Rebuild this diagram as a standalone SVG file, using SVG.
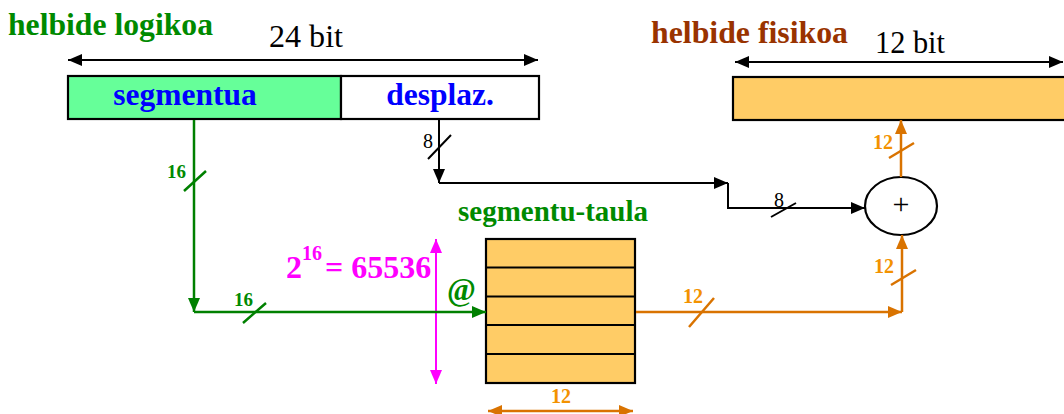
<svg xmlns="http://www.w3.org/2000/svg" width="1064" height="414" viewBox="0 0 1064 414">
  <style>
    text { font-family: "Liberation Serif", "DejaVu Serif", serif; }
    .bold { font-weight: bold; }
    .title-g { fill: #008a00; font-size: 31.5px; }
    .title-b { fill: #993300; font-size: 30.5px; }
    .field { fill: #0000ff; font-size: 31.5px; }
    .dim { fill: #000; font-size: 31px; }
    .w-g { fill: #008a00; font-size: 19px; }
    .w-o { fill: #f39200; font-size: 20px; }
    .w-k { fill: #000; font-size: 20px; }
    .ln-k { stroke: #000; stroke-width: 2; fill: none; }
    .ln-g { stroke: #008000; stroke-width: 2.5; fill: none; }
    .ln-o { stroke: #d97300; stroke-width: 2.5; fill: none; }
    .ln-m { stroke: #ff00ff; stroke-width: 2; fill: none; }
    .box { stroke: #000; stroke-width: 2.2; }
  </style>
  <defs>
    <marker id="ak" markerUnits="userSpaceOnUse" markerWidth="14" markerHeight="12" refX="14" refY="6" orient="auto-start-reverse">
      <path d="M0,0 L14,6 L0,12 z" fill="#000"/>
    </marker>
    <marker id="ag" markerUnits="userSpaceOnUse" markerWidth="14" markerHeight="12" refX="14" refY="6" orient="auto-start-reverse">
      <path d="M0,0 L14,6 L0,12 z" fill="#008000"/>
    </marker>
    <marker id="ao" markerUnits="userSpaceOnUse" markerWidth="14" markerHeight="12" refX="14" refY="6" orient="auto-start-reverse">
      <path d="M0,0 L14,6 L0,12 z" fill="#d97300"/>
    </marker>
    <marker id="am" markerUnits="userSpaceOnUse" markerWidth="14" markerHeight="12" refX="14" refY="6" orient="auto-start-reverse">
      <path d="M0,0 L14,6 L0,12 z" fill="#ff00ff"/>
    </marker>
  </defs>

  <rect width="1064" height="414" fill="#fff"/>

  <!-- logical address register -->
  <g id="logical-address">
    <text class="bold title-g" x="8" y="35" textLength="205" lengthAdjust="spacingAndGlyphs">helbide logikoa</text>
    <text class="dim" x="269" y="47" textLength="74" lengthAdjust="spacingAndGlyphs">24 bit</text>
    <path class="ln-k" d="M68,60 H538" marker-start="url(#ak)" marker-end="url(#ak)"/>
    <rect class="box" x="68" y="76" width="273" height="43" fill="#66ff99"/>
    <rect class="box" x="341" y="76" width="198" height="43" fill="#fff"/>
    <text class="bold field" x="185" y="105" text-anchor="middle">segmentua</text>
    <text class="bold field" x="440" y="105" text-anchor="middle">desplaz.</text>
  </g>

  <!-- physical address register -->
  <g id="physical-address">
    <text class="bold title-b" x="651" y="43" textLength="197" lengthAdjust="spacingAndGlyphs">helbide fisikoa</text>
    <text class="dim" x="875" y="53" textLength="70" lengthAdjust="spacingAndGlyphs">12 bit</text>
    <path class="ln-k" d="M735,62 H1063" marker-start="url(#ak)" marker-end="url(#ak)"/>
    <rect class="box" x="733" y="77" width="340" height="43" fill="#ffcc66"/>
  </g>

  <!-- segment table -->
  <g id="segment-table">
    <text class="bold" x="458" y="221" fill="#008a00" font-size="29" textLength="190" lengthAdjust="spacingAndGlyphs">segmentu-taula</text>
    <rect class="box" x="486" y="239" width="149" height="144" fill="#ffcc66"/>
    <path class="ln-k" stroke-width="2.5" d="M486,267.5 H635 M486,296.5 H635 M486,325 H635 M486,354 H635"/>
    <text class="bold w-o" x="561" y="403" text-anchor="middle">12</text>
    <path class="ln-o" d="M488,411 H633" marker-start="url(#ao)" marker-end="url(#ao)"/>
  </g>

  <!-- table size annotation -->
  <g id="table-size">
    <text class="bold" fill="#ff00ff" font-size="32"><tspan x="286" y="278">2</tspan><tspan x="302" y="260" font-size="20">16</tspan><tspan x="325" y="278">= 65536</tspan></text>
    <path class="ln-m" d="M436,239 V384" marker-start="url(#am)" marker-end="url(#am)"/>
  </g>

  <!-- adder -->
  <g id="adder">
    <ellipse cx="901" cy="206" rx="36" ry="29" fill="#fff" stroke="#000" stroke-width="2.2"/>
    <text x="901" y="214" font-size="30" text-anchor="middle" fill="#000">+</text>
  </g>

  <!-- connectors -->
  <g id="connectors">
    <!-- segment number path -->
    <path class="ln-g" d="M194,120 V312" marker-end="url(#ag)"/>
    <path class="ln-g" d="M194,312 H486" marker-end="url(#ag)"/>
    <path class="ln-g" d="M184,191 L206,171 M243,323 L266,303"/>
    <text class="bold w-g" x="167" y="178">16</text>
    <text class="bold w-g" x="234" y="306">16</text>
    <text class="bold" x="447" y="300" fill="#008a00" font-size="31">@</text>

    <!-- offset path -->
    <path class="ln-k" d="M439,120 V183" marker-end="url(#ak)"/>
    <path class="ln-k" d="M439,183 H728" marker-end="url(#ak)"/>
    <path class="ln-k" d="M728,183 V208 H865" marker-end="url(#ak)"/>
    <path class="ln-k" d="M428,159 L451,135 M771,217 L796,203"/>
    <text class="w-k" x="423" y="148">8</text>
    <text class="w-k" x="774" y="207">8</text>

    <!-- base address path -->
    <path class="ln-o" d="M636,312 H902" marker-end="url(#ao)"/>
    <path class="ln-o" d="M902,312 V235" marker-end="url(#ao)"/>
    <path class="ln-o" d="M901,177 V120" marker-end="url(#ao)"/>
    <path class="ln-o" d="M689,327 L714,298 M891,285 L916,270 M889,158 L914,143"/>
    <text class="bold w-o" x="683" y="303">12</text>
    <text class="bold w-o" x="874" y="273">12</text>
    <text class="bold w-o" x="873" y="149">12</text>
  </g>
</svg>
